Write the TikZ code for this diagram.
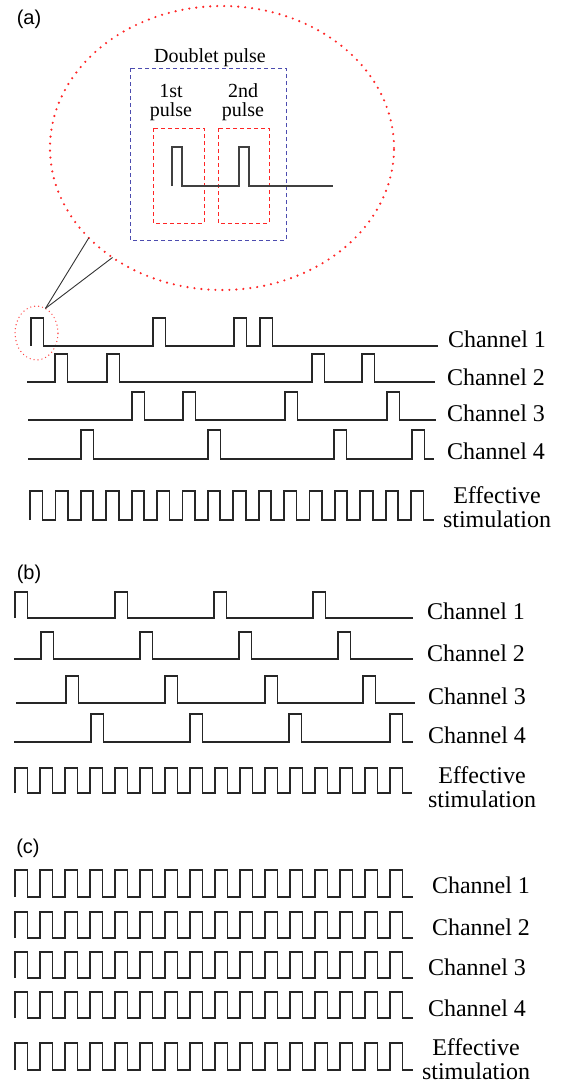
\documentclass[tikz,border=0pt]{standalone}
\usepackage{fontspec}
\setmainfont{Liberation Serif}
\setsansfont{Liberation Sans}
\usetikzlibrary{shapes.geometric}

% one train of square pulses: base, top, start, end, rise positions
\newcommand{\pulsetrain}[5]{%
  \draw[wave] (#3,#1) foreach \p in {#5} { -- (\p,#1) -- (\p,#2) -- (\p+12.5,#2) -- (\p+12.5,#1) } -- (#4,#1);}

\begin{document}
\begin{tikzpicture}[x=1pt, y=-1pt, inner sep=0pt, outer sep=0pt,
    every node/.style={font=\fontsize{24}{24}\selectfont},
    wave/.style={line width=1.8pt, line join=miter, black!85},
    panel/.style={font=\sffamily\fontsize{20}{22}\selectfont},
    small/.style={font=\fontsize{20}{19}\selectfont, align=center},
    bluebox/.style={draw=blue!55!black!70, line width=0.9pt, dash pattern=on 4pt off 3pt},
    redbox/.style={draw=red!85, line width=0.9pt, dash pattern=on 4pt off 3pt},
    reddots/.style={draw=red!85, line width=2.4pt, line cap=round, dash pattern=on 0pt off 7pt}]
    \useasboundingbox (0,0) rectangle (567,1085);

    % (a) magnified doublet
    \node[panel, anchor=center] (lab_a) at (29,19) {(a)};
    \node[ellipse, reddots, minimum width=344pt, minimum height=284pt] (zoom_a) at (222,148) {};
    \node[ellipse, draw=red!75, line width=1.4pt, line cap=round, dash pattern=on 0pt off 4pt,
      minimum width=43pt, minimum height=54pt] (spot_a) at (36.5,333) {};
    \draw[line width=0.9pt, black!80] (spot_a.70) -- (zoom_a.214);
    \draw[line width=0.9pt, black!80] (spot_a.70) -- (zoom_a.225.5);

    \node[small, anchor=base] (doublet) at (210,62) {Doublet pulse};
    \draw[bluebox] (130,68) rectangle (286,240);
    \node[small, anchor=north] (first) at (171,84) {1st\\pulse};
    \node[small, anchor=north] (second) at (243,84) {2nd\\pulse};
    \draw[redbox] (153,128) rectangle (204,223);
    \draw[redbox] (218,128) rectangle (269,223);
    \draw[line width=1.4pt, black!75] (172,186) -- (172,147) -- (182,147) -- (182,186) -- (239,186)
      -- (239,147) -- (249,147) -- (249,186) -- (333,186);

    % (a) channels
    \pulsetrain{346}{318}{31}{438}{31,153,234,260}
    \pulsetrain{382}{354}{27}{435}{55,107,312,362}
    \pulsetrain{420}{392}{28}{436}{132,183,285,387}
    \pulsetrain{459}{430}{28}{434}{81,208,334,412}
    \pulsetrain{520}{491}{30}{434}{30,55.4,...,412}
    \node[anchor=base west] (ch_a1) at (448,347) {Channel 1};
    \node[anchor=base west] (ch_a2) at (447,385) {Channel 2};
    \node[anchor=base west] (ch_a3) at (447,421) {Channel 3};
    \node[anchor=base west] (ch_a4) at (447,459) {Channel 4};
    \node[anchor=south west, align=center] (eff_a) at (443,528) {Effective\\stimulation};

    % (b)
    \node[panel, anchor=center] (lab_b) at (29,574) {(b)};
    \pulsetrain{618}{592}{15}{413}{15,115,214,313}
    \pulsetrain{659}{632}{14}{413}{41,140,239,338}
    \pulsetrain{703}{676}{16}{415}{66,165,265,363}
    \pulsetrain{742}{714}{14}{413}{91,190,289,390}
    \pulsetrain{793}{768}{15}{412}{15,40,...,390}
    \node[anchor=base west] (ch_b1) at (427,619) {Channel 1};
    \node[anchor=base west] (ch_b2) at (427,661) {Channel 2};
    \node[anchor=base west] (ch_b3) at (428,704) {Channel 3};
    \node[anchor=base west] (ch_b4) at (428,743) {Channel 4};
    \node[anchor=south west, align=center] (eff_b) at (428,808) {Effective\\stimulation};

    % (c)
    \node[panel, anchor=center] (lab_c) at (28,848) {(c)};
    \pulsetrain{897}{870}{15}{413}{15,40,...,390}
    \pulsetrain{938}{912}{15}{413}{15,40,...,390}
    \pulsetrain{978}{952}{15}{413}{15,40,...,390}
    \pulsetrain{1018}{992}{15}{413}{15,40,...,390}
    \pulsetrain{1070}{1043}{15}{413}{15,40,...,390}
    \node[anchor=base west] (ch_c1) at (432,893) {Channel 1};
    \node[anchor=base west] (ch_c2) at (432,935) {Channel 2};
    \node[anchor=base west] (ch_c3) at (428,975) {Channel 3};
    \node[anchor=base west] (ch_c4) at (428,1016) {Channel 4};
    \node[anchor=south west, align=center] (eff_c) at (422,1080) {Effective\\stimulation};

\end{tikzpicture}
\end{document}
